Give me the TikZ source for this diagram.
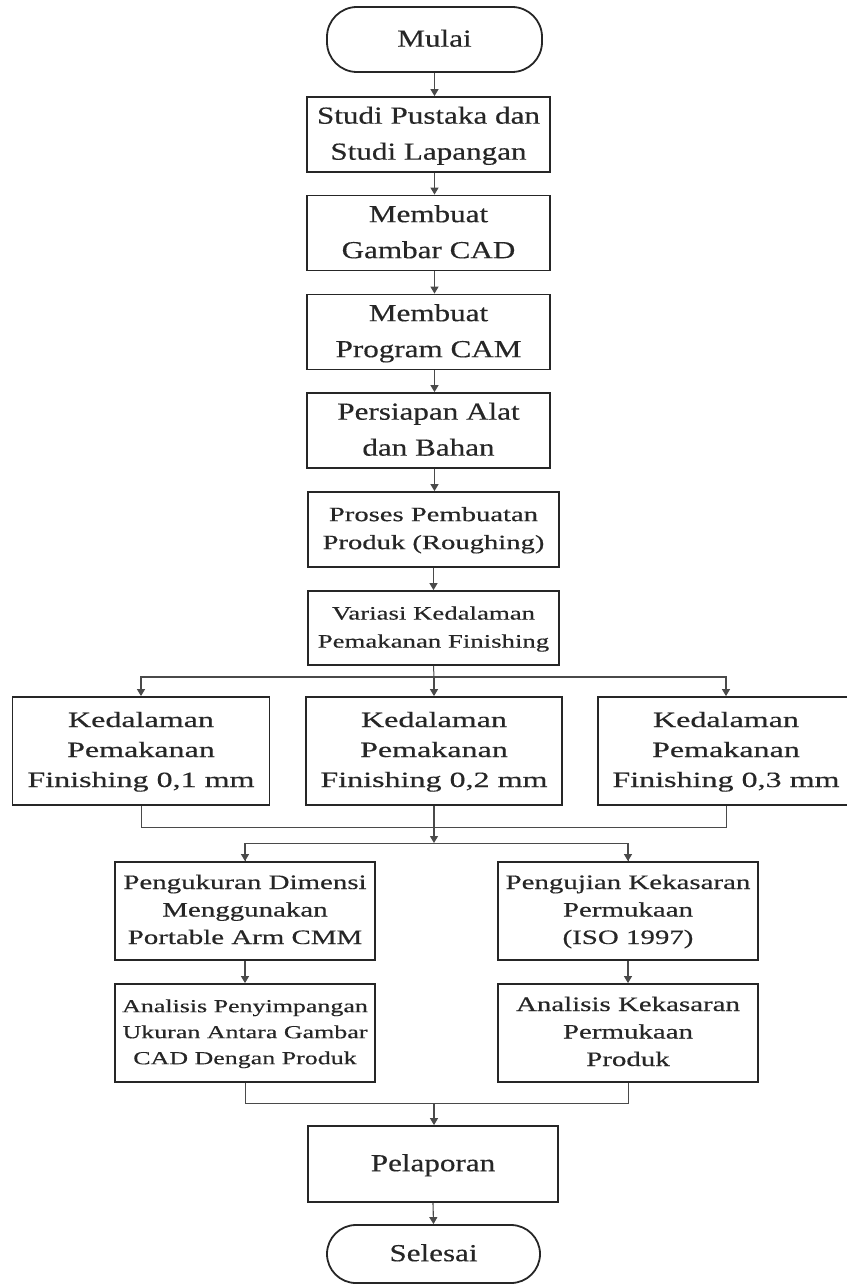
\documentclass[tikz,border=0pt]{standalone}
\usepackage{fontspec}
\setmainfont{Liberation Serif}[FakeBold=0.35]
\usepackage{graphicx}
\usetikzlibrary{arrows.meta}
\definecolor{ink}{HTML}{262626}
\definecolor{wire}{HTML}{4A4A4A}
\newcommand{\tx}[4]{\scalebox{#1}[1]{\fontsize{#2}{#3}\selectfont\begin{tabular}{@{}c@{}}#4\end{tabular}}}
\tikzset{
  box/.style={draw=ink, line width=1.8pt, inner sep=0pt, text=ink, minimum height=75pt},
  term/.style={box, rounded corners=30pt},
  arr/.style={draw=wire, line width=1.1pt, -{Triangle[length=7pt,width=8pt]}},
  wireln/.style={draw=wire, line width=1pt},
}
\begin{document}
\begin{tikzpicture}[x=1pt,y=-1pt]
\useasboundingbox (0,0) rectangle (846,1284);
% top column
\node[term, minimum width=215pt, minimum height=65pt] (mulai) at (434.5,39.5) {\tx{1.27}{24.5}{36}{Mulai}};
\node[box, minimum width=243pt] (studi) at (428.5,134.5) {\tx{1.27}{24.5}{36}{Studi Pustaka dan\\Studi Lapangan}};
\node[box, minimum width=243pt] (cad) at (428.5,233) {\tx{1.27}{24.5}{36}{Membuat\\Gambar CAD}};
\node[box, minimum width=243pt] (cam) at (428.5,332) {\tx{1.27}{24.5}{36}{Membuat\\Program CAM}};
\node[box, minimum width=243pt] (alat) at (428.5,430.5) {\tx{1.27}{24.5}{36}{Persiapan Alat\\dan Bahan}};
\node[box, minimum width=251pt] (proses) at (433.5,529.5) {\tx{1.41}{20.3}{28}{Proses Pembuatan\\Produk (Roughing)}};
\node[box, minimum width=251pt, minimum height=74pt] (variasi) at (433.5,628) {\tx{1.41}{19}{28}{Variasi Kedalaman\\Pemakanan Finishing}};
% three depths
\node[box, minimum width=257pt, minimum height=108pt] (k1) at (141,751) {\tx{1.47}{21.8}{30}{Kedalaman\\Pemakanan\\Finishing 0,1 mm}};
\node[box, minimum width=256pt, minimum height=108pt] (k2) at (434,751) {\tx{1.47}{21.8}{30}{Kedalaman\\Pemakanan\\Finishing 0,2 mm}};
\node[box, minimum width=256pt, minimum height=108pt] (k3) at (726,751) {\tx{1.47}{21.8}{30}{Kedalaman\\Pemakanan\\Finishing 0,3 mm}};
% two columns
\node[box, minimum width=260pt, minimum height=98pt] (ukur) at (245,911) {\tx{1.41}{20.5}{27.5}{Pengukuran Dimensi\\Menggunakan\\Portable Arm CMM}};
\node[box, minimum width=260pt, minimum height=98pt] (anal1) at (245,1033) {\tx{1.41}{18.4}{26}{Analisis Penyimpangan\\Ukuran Antara Gambar\\CAD Dengan Produk}};
\node[box, minimum width=260pt, minimum height=98pt] (uji) at (628,911) {\tx{1.41}{20.5}{27.5}{Pengujian Kekasaran\\Permukaan\\(ISO 1997)}};
\node[box, minimum width=260pt, minimum height=98pt] (anal2) at (628,1033) {\tx{1.41}{20.5}{27.5}{Analisis Kekasaran\\Permukaan\\Produk}};
% end
\node[box, minimum width=250pt, minimum height=76pt] (lapor) at (433,1164) {\tx{1.27}{24.5}{36}{Pelaporan}};
\node[term, minimum width=213pt, minimum height=58pt, rounded corners=29pt] (selesai) at (433.5,1254) {\tx{1.27}{24.5}{36}{Selesai}};
% connectors
\draw[arr] (mulai.south) -- (mulai.south |- studi.north);
\draw[arr] (mulai.south |- studi.south) -- (mulai.south |- cad.north);
\draw[arr] (mulai.south |- cad.south) -- (mulai.south |- cam.north);
\draw[arr] (mulai.south |- cam.south) -- (mulai.south |- alat.north);
\draw[arr] (mulai.south |- alat.south) -- (mulai.south |- proses.north);
\draw[arr] (proses.south) -- (variasi.north);
\coordinate (b1) at (434,677);
\draw[wireln] (variasi.south) -- (b1);
\draw[arr] (b1) -| (k1.north);
\draw[arr] (b1) -- (k2.north);
\draw[arr] (b1) -| (k3.north);
\coordinate (m1) at (434,827);
\coordinate (b2) at (434,843);
\draw[wireln] (k1.south) |- (m1);
\draw[wireln] (k3.south) |- (m1);
\draw[arr] (k2.south) -- (b2);
\draw[wireln] (b2) -| (ukur.north);
\draw[wireln] (b2) -| (uji.north);
\draw[arr] (ukur.north |- b2) -- (ukur.north);
\draw[arr] (uji.north |- b2) -- (uji.north);
\draw[arr] (ukur.south) -- (anal1.north);
\draw[arr] (uji.south) -- (anal2.north);
\coordinate (m2) at (434,1103);
\draw[wireln] (anal1.south) |- (m2);
\draw[wireln] (anal2.south) |- (m2);
\draw[arr] (m2) -- (m2 |- lapor.north);
\draw[arr] (lapor.south) -- (selesai.north);
\end{tikzpicture}
\end{document}
